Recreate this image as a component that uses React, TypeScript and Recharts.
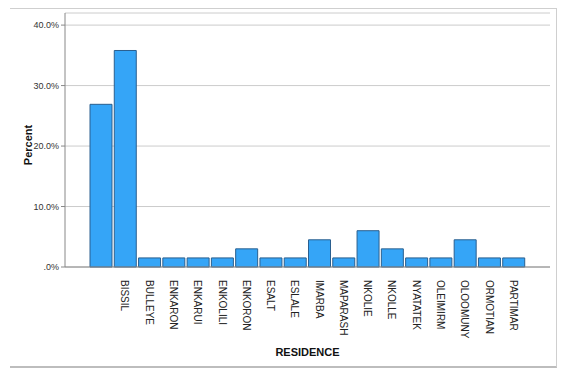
import { BarChart, Bar, XAxis, YAxis, CartesianGrid, Label } from 'recharts'

const residences = [
  '', 'BISSIL', 'BULLEYE', 'ENKARON', 'ENKARUI', 'ENKOLILI', 'ENKORON', 'ESALT', 'ESLALE',
  'IMARBA', 'MAPARASH', 'NKOLIE', 'NKOLLE', 'NYATATEK', 'OLEIMIRM', 'OLOOMUNY', 'ORMOTIAN', 'PARTIMAR',
]
const percents = [
  26.9, 35.8, 1.5, 1.5, 1.5, 1.5, 3.0, 1.5, 1.5,
  4.5, 1.5, 6.0, 3.0, 1.5, 1.5, 4.5, 1.5, 1.5,
]
const yTicks = [0, 10, 20, 30, 40]

const chartData = residences.map((name, i) => ({ name, value: percents[i] }))

const FONT = 'Arial, "Liberation Sans", sans-serif'

function ResidenceTick({ x, y, payload }: any) {
  return (
    <text
      x={0}
      y={0}
      transform={`translate(${x - 4},${y + 5}) rotate(90)`}
      textAnchor="start"
      fontSize={10}
      fontFamily={FONT}
      fill="#222"
    >
      {payload.value}
    </text>
  )
}

const formatPercent = (v: number) => (v === 0 ? '.0%' : `${v.toFixed(1)}%`)

export default function App() {
  return (
    <div style={{ position: 'absolute', left: 0, top: 0, width: 567, height: 376, background: '#fff' }}>
      <div
        style={{
          position: 'absolute',
          left: 10,
          top: 8,
          width: 546,
          height: 357,
          borderTop: '1px solid #cfcfcf',
          borderRight: '1px solid #cfcfcf',
          borderBottom: '2px solid #bdbdbd',
        }}
      />
      <BarChart
        width={567}
        height={376}
        data={chartData}
        margin={{ top: 13, right: 17, left: 0, bottom: 14 }}
        barCategoryGap={1}
        style={{ position: 'absolute', left: 0, top: 0 }}
      >
        <CartesianGrid vertical={false} stroke="#cccccc" />
        <XAxis
          dataKey="name"
          interval={0}
          height={95}
          padding={{ left: 24, right: 24 }}
          tickLine={false}
          stroke="#888"
          tick={<ResidenceTick />}
        >
          <Label
            value="RESIDENCE"
            position="insideBottom"
            offset={6}
            style={{ fontSize: 11, fontWeight: 'bold', fontFamily: FONT, fill: '#111' }}
          />
        </XAxis>
        <YAxis
          width={65}
          domain={[0, 42]}
          ticks={yTicks}
          tickFormatter={formatPercent}
          tickSize={4}
          stroke="#888"
          tick={{ fontSize: 9, fontFamily: FONT, fill: '#333' }}
        >
          <Label
            value="Percent"
            angle={-90}
            position="insideLeft"
            offset={28}
            dy={5}
            style={{ fontSize: 11, fontWeight: 'bold', fontFamily: FONT, fill: '#111', textAnchor: 'middle' }}
          />
        </YAxis>
        <Bar dataKey="value" fill="#35a5f7" stroke="#2a5f8f" strokeWidth={1} isAnimationActive={false} />
      </BarChart>
    </div>
  )
}
